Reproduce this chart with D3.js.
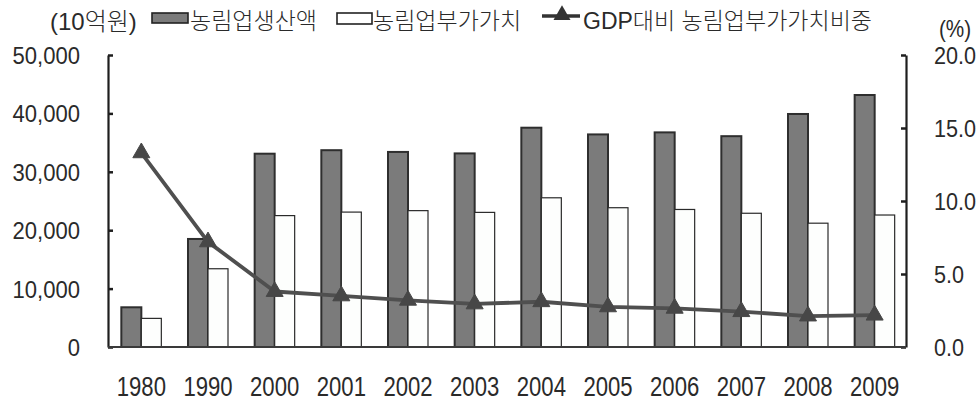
<!DOCTYPE html>
<html><head><meta charset="utf-8">
<script src="https://cdn.jsdelivr.net/npm/d3@7/dist/d3.min.js"></script>
<style>
html,body{margin:0;padding:0;background:#fff;}
svg{display:block;}
text{font-family:"Liberation Sans","Noto Sans CJK KR",sans-serif;fill:#2a2a2a;}
.kr{font-weight:300;}
</style></head>
<body>
<svg id="c" width="978" height="405"></svg>
<script>
const years = ["1980","1990","2000","2001","2002","2003","2004","2005","2006","2007","2008","2009"];
const production = [6800,18500,33100,33700,33400,33150,37550,36400,36750,36100,39900,43150];
const valueAdded = [4900,13400,22500,23100,23350,23050,25550,23850,23550,22900,21200,22600];
const gdpShare = [13.3,7.2,3.8,3.5,3.2,2.95,3.1,2.75,2.65,2.42,2.12,2.18];
const leftTicks = [0,10000,20000,30000,40000,50000];
const rightTicks = [0,5,10,15,20];
const legendLabels = ["농림업생산액","농림업부가가치","GDP대비 농림업부가가치비중"];
const unitLeft = "(10억원)";
const unitRight = "(%)";

const svg = d3.select("#c");
const L = 108, R = 906, T = 55, B = 347;

const x = d3.scaleBand().domain(years).range([L, R+2]).paddingInner(0).paddingOuter(0);
const yL = d3.scaleLinear().domain([0,50000]).range([B,T]);
const yR = d3.scaleLinear().domain([0,20]).range([B,T]);
const bw = 20;

// bars
const g = svg.append("g");
g.selectAll("rect.p").data(years).join("rect")
  .attr("x", d => x(d)+x.bandwidth()/2 - bw)
  .attr("y", (d,i) => yL(production[i]))
  .attr("width", bw)
  .attr("height", (d,i) => B - yL(production[i]))
  .attr("fill", "#7b7b7b").attr("stroke", "#2e2e2e").attr("stroke-width", 2);
g.selectAll("rect.v").data(years).join("rect")
  .attr("x", d => x(d)+x.bandwidth()/2)
  .attr("y", (d,i) => yL(valueAdded[i]))
  .attr("width", bw)
  .attr("height", (d,i) => B - yL(valueAdded[i]))
  .attr("fill", "#fdfefd").attr("stroke", "#2a2a2a").attr("stroke-width", 1.2);

// axes
const sx = 0.9;
const axL = svg.append("g").attr("transform", `translate(${L},0)`)
  .call(d3.axisLeft(yL).tickValues(leftTicks).tickFormat(d3.format(",")).tickSizeInner(-5).tickSizeOuter(0).tickPadding(28/sx));
axL.select(".domain").attr("stroke","#1e1e1e").attr("stroke-width",2.2);
axL.selectAll(".tick line").attr("stroke","#1e1e1e").attr("stroke-width",2.5);
axL.selectAll(".tick text").attr("font-size",24.5).attr("fill","#2a2a2a")
  .attr("transform",`scale(${sx},1)`).attr("dy","0.35em");

const axR = svg.append("g").attr("transform", `translate(${R},0)`)
  .call(d3.axisRight(yR).tickValues(rightTicks).tickFormat(d3.format(".1f")).tickSizeInner(-5).tickSizeOuter(0).tickPadding(28/sx));
axR.select(".domain").attr("stroke","#1e1e1e").attr("stroke-width",2.2);
axR.selectAll(".tick line").attr("stroke","#1e1e1e").attr("stroke-width",2.5);
axR.selectAll(".tick text").attr("font-size",24).attr("fill","#2a2a2a")
  .attr("transform",`scale(${sx},1)`).attr("dy","0.35em");

const axB = svg.append("g").attr("transform", `translate(0,${B})`)
  .call(d3.axisBottom(x).tickSize(0).tickPadding(29));
axB.select(".domain").attr("stroke","#3a3a3a").attr("stroke-width",2.2).attr("d",`M${L},0H${R}`);
axB.selectAll(".tick text").attr("font-size",28).attr("fill","#2a2a2a")
  .attr("transform","scale(0.79,1)").attr("x",0);

// line
const line = d3.line().x((d,i)=>x(years[i])+x.bandwidth()/2).y(d=>yR(d));
svg.append("path").datum(gdpShare).attr("d", line)
  .attr("fill","none").attr("stroke","#4f4f4f").attr("stroke-width",3.8).attr("stroke-linejoin","round");
const tri = d3.symbol().type(d3.symbolTriangle).size(125);
svg.selectAll("path.m").data(gdpShare).join("path")
  .attr("transform",(d,i)=>`translate(${x(years[i])+x.bandwidth()/2},${yR(d)})`)
  .attr("d", tri).attr("fill","#474747").attr("stroke","#474747").attr("stroke-width",1);

// units
svg.append("text").attr("class","kr").attr("x",50).attr("y",30).attr("font-size",24).attr("fill","#333").text(unitLeft);
svg.append("text").attr("x",955).attr("y",37).attr("font-size",23).attr("text-anchor","middle").attr("fill","#333")
  .attr("transform","translate(955,0) scale(0.9,1) translate(-955,0)").text(unitRight);

// legend
svg.append("rect").attr("x",152).attr("y",13).attr("width",36).attr("height",10)
  .attr("fill","#7b7b7b").attr("stroke","#222").attr("stroke-width",1.6);
svg.append("text").attr("class","kr").attr("x",190).attr("y",29).attr("font-size",23).attr("fill","#333").text(legendLabels[0]);
svg.append("rect").attr("x",337).attr("y",13).attr("width",35).attr("height",11)
  .attr("fill","#fff").attr("stroke","#222").attr("stroke-width",1.6);
svg.append("text").attr("class","kr").attr("x",373).attr("y",29).attr("font-size",23).attr("fill","#333").text(legendLabels[1]);
svg.append("line").attr("x1",542).attr("x2",580).attr("y1",16).attr("y2",16)
  .attr("stroke","#333").attr("stroke-width",3.5);
svg.append("path").attr("transform","translate(562,15)").attr("d",tri).attr("fill","#333");
svg.append("text").attr("class","kr").attr("x",583).attr("y",29).attr("font-size",23).attr("fill","#555").text(legendLabels[2]);
</script>
</body></html>
